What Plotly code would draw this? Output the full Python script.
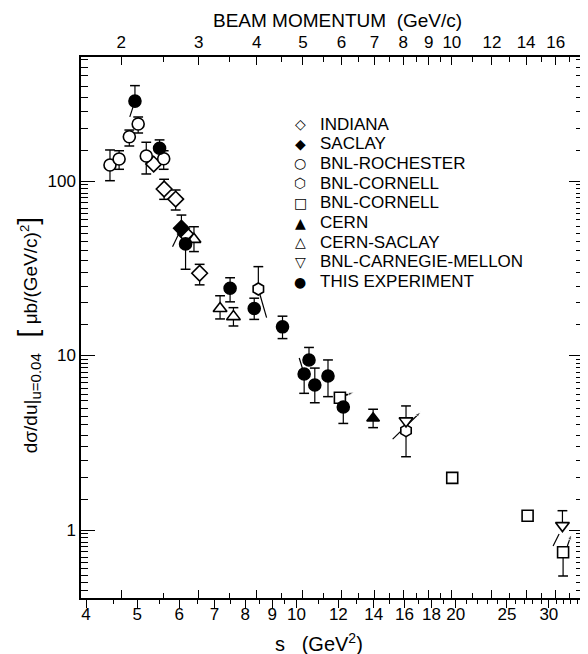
import math
import plotly.graph_objects as go

# ---------------- data ----------------
indiana_s = [5.37, 5.62, 5.91, 6.17, 6.56]
indiana_y = [125, 90.0, 78.8, 49.7, 29.6]
indiana_up = [0, 12.3, 10.0, 0, 3.7]
indiana_dn = [0, 11.5, 10.6, 0, 4.2]

saclay_s = [6.06]
saclay_y = [53.6]
saclay_up = [10.2]
saclay_dn = [0]

rochester_s = [4.44, 4.62, 4.83, 5.02, 5.20, 5.61]
rochester_y = [123.5, 133.7, 179.4, 212.1, 139.1, 134.2]
rochester_up = [27.1, 15.4, 16.5, 20.6, 27.6, 14.9]
rochester_dn = [23.1, 17.0, 20.7, 23.7, 29.4, 17.5]

cornell_hex_s = [8.47, 16.11]
cornell_hex_y = [24.05, 3.71]
cornell_hex_up = [8.25, 0]
cornell_hex_dn = [0, 1.08]

cornell_sq_s = [12.08, 19.7, 27.35, 31.92]
cornell_sq_y = [5.73, 1.99, 1.208, 0.745]
cornell_sq_up = [0, 0, 0, 0]
cornell_sq_dn = [0, 0, 0, 0.2]

cern_s = [13.96]
cern_y = [4.37]
cern_up = [0.55]
cern_dn = [0.51]

cern_saclay_s = [6.40, 7.17, 7.60]
cern_saclay_y = [46.3, 18.6, 16.7]
cern_saclay_up = [8.4, 3.4, 2.1]
cern_saclay_dn = [6.9, 2.4, 1.94]

cmu_s = [16.11, 31.83]
cmu_y = [4.22, 1.06]
cmu_up = [0.92, 0.23]
cmu_dn = [0, 0]

this_s = [4.95, 5.51, 6.17, 7.49, 8.32, 9.41, 10.56, 10.34, 10.83, 11.47, 12.26]
this_y = [287, 154, 43.6, 24.3, 18.6, 14.6, 9.42, 7.83, 6.77, 7.63, 5.07]
this_up = [65, 18, 6, 3.6, 2.7, 2.2, 1.7, 0, 1.7, 1.8, 0.9]
this_dn = [0, 0, 12.4, 4.0, 2.5, 2.1, 0, 1.76, 1.41, 1.82, 0.99]

# slanted segments (start s, start y, end s, end y)
seg_plain = [(4.95, 287, 4.84, 233), (6.06, 53.6, 5.83, 42.0),
             (8.47, 24.05, 8.78, 16.47), (10.12, 9.67, 10.34, 7.83),
             (30.56, 0.81, 31.37, 0.948)]
seg_arrow = [(12.08, 5.73, 12.84, 6.18), (15.2, 3.32, 17.19, 4.76),
             (32.52, 0.81, 33.1, 0.945)]

# legend entries
legend_symbols = ["◇", "◆", "○", "⬡", "□", "▲", "△", "▽", "●"]
legend_names = ["INDIANA", "SACLAY", "BNL-ROCHESTER", "BNL-CORNELL", "BNL-CORNELL",
                "CERN", "CERN-SACLAY", "BNL-CARNEGIE-MELLON", "THIS EXPERIMENT"]

# axis ticks
s_ticks = [4, 5, 6, 7, 8, 9, 10, 12, 14, 16, 18, 20, 25, 30]
s_minor = [4.5, 5.5, 6.5, 7.5, 8.5, 9.5, 11, 13, 15, 17, 19, 21, 22, 23, 24,
           26, 27, 28, 29, 31, 32, 33, 34]
p_ticks = [2, 3, 4, 5, 6, 7, 8, 9, 10, 12, 14, 16]
p_minor = [2.5, 3.5, 4.5, 5.5, 6.5, 7.5, 8.5, 9.5, 11, 13, 15, 17]
y_ticks = [1, 10, 100]
y_minor_mant = [1.5, 2, 2.5, 3, 3.5, 4, 4.5, 5, 5.5, 6, 6.5, 7, 7.5, 8, 8.5, 9, 9.5]

M_PI, M_P = 0.13957, 0.93827


def s_of_p(p):
    return M_PI ** 2 + M_P ** 2 + 2 * M_P * math.sqrt(p * p + M_PI ** 2)


FONT = "Liberation Sans, Arial, sans-serif"
fig = go.Figure()

series = [
    ("INDIANA", indiana_s, indiana_y, indiana_up, indiana_dn, "diamond", False, 12),
    ("SACLAY", saclay_s, saclay_y, saclay_up, saclay_dn, "diamond", True, 12),
    ("BNL-ROCHESTER", rochester_s, rochester_y, rochester_up, rochester_dn, "circle", False, 12),
    ("BNL-CORNELL", cornell_hex_s, cornell_hex_y, cornell_hex_up, cornell_hex_dn, "hexagon", False, 12),
    ("BNL-CORNELL ", cornell_sq_s, cornell_sq_y, cornell_sq_up, cornell_sq_dn, "square", False, 11),
    ("CERN", cern_s, cern_y, cern_up, cern_dn, "triangle-up", True, 11),
    ("CERN-SACLAY", cern_saclay_s, cern_saclay_y, cern_saclay_up, cern_saclay_dn, "triangle-up", False, 12),
    ("BNL-CARNEGIE-MELLON", cmu_s, cmu_y, cmu_up, cmu_dn, "triangle-down", False, 12),
    ("THIS EXPERIMENT", this_s, this_y, this_up, this_dn, "circle", True, 12),
]

# error bars (bars + caps) built from the data
bx, by, cx, cy = [], [], [], []
for _, s, y, up, dn, *_rest in series:
    for si, yi, u, d in zip(s, y, up, dn):
        if u > 0 or d > 0:
            bx += [si, si, None]
            by += [yi - d, yi + u, None]
        if u > 0:
            cx.append(si)
            cy.append(yi + u)
        if d > 0:
            cx.append(si)
            cy.append(yi - d)
fig.add_trace(go.Scatter(x=bx, y=by, mode="lines", line=dict(color="black", width=1.2),
                         showlegend=False, hoverinfo="skip"))
fig.add_trace(go.Scatter(x=cx, y=cy, mode="markers",
                         marker=dict(symbol="line-ew", size=7,
                                     line=dict(color="black", width=1.5)),
                         showlegend=False, hoverinfo="skip"))

# slanted lines
px, py = [], []
for a, b, c, d in seg_plain:
    px += [a, c, None]
    py += [b, d, None]
fig.add_trace(go.Scatter(x=px, y=py, mode="lines", line=dict(color="black", width=1.2),
                         showlegend=False, hoverinfo="skip"))
for a, b, c, d in seg_arrow:
    fig.add_trace(go.Scatter(x=[a, c], y=[b, d], mode="lines+markers",
                             line=dict(color="black", width=1.2),
                             marker=dict(symbol="arrow", size=[0, 6], color="black",
                                         angleref="previous"),
                             showlegend=False, hoverinfo="skip"))

# markers
for name, s, y, up, dn, symbol, filled, size in series:
    fig.add_trace(go.Scatter(
        x=s, y=y, mode="markers", name=name, showlegend=False,
        marker=dict(symbol=symbol, size=size, color="black" if filled else "white",
                    line=dict(color="black", width=1.6)),
        hoverinfo="skip"))

# invisible trace to carry the top axis
fig.add_trace(go.Scatter(x=this_s, y=this_y, xaxis="x2", mode="markers",
                         marker=dict(opacity=0), showlegend=False, hoverinfo="skip"))

xr = [0.5926, 1.5417]
yr = [-0.3897, 2.7106]
y_minor = [m * 10 ** e for e in (-1, 0, 1, 2) for m in y_minor_mant]

# figure geometry (page has an 8px body margin)
W, H = 588, 654
ML, MT, PW, PH = 73, 49, 504, 541
MR, MB = W - ML - PW, H - MT - PH


def pxx(fx):
    return (fx - ML) / PW


def pxy(fy):
    return (MT + PH - fy) / PH


annotations = [
    dict(text="BEAM MOMENTUM  (GeV/c)", x=pxx(331), y=pxy(12), font=dict(size=19)),
    dict(text="s   (GeV<sup>2</sup>)", x=pxx(312), y=pxy(634), font=dict(size=20)),
    dict(text="dσ/du|<sub><span style='font-size:15px'>u=0.04</span></sub>   "
              "<span style='font-size:28px'>[</span>"
              " μb/(GeV/c)<sup>2</sup><span style='font-size:28px'>]</span>",
         x=pxx(20), y=pxy(327), textangle=-90, font=dict(size=19)),
]
for i, (sym, name) in enumerate(zip(legend_symbols, legend_names)):
    yc = 116 + i * 19.7
    annotations.append(dict(text=sym, x=pxx(293), y=pxy(yc),
                            font=dict(size=14, family="DejaVu Sans")))
    annotations.append(dict(text=name, x=pxx(311), y=pxy(yc), xanchor="left",
                            font=dict(size=17)))
for a in annotations:
    a.setdefault("xanchor", "center")
    a.update(xref="paper", yref="paper", showarrow=False, yanchor="middle")

fig.update_layout(
    width=W, height=H,
    margin=dict(l=ML, r=MR, t=MT, b=MB),
    paper_bgcolor="white", plot_bgcolor="white",
    font=dict(family=FONT, color="black", size=16),
    showlegend=False,
    xaxis=dict(type="log", range=xr, tickmode="array", tickvals=s_ticks,
               ticktext=[str(v) for v in s_ticks], ticks="outside", ticklen=8,
               tickwidth=1.2, tickcolor="black", showgrid=False, zeroline=False,
               showline=True, linecolor="black", linewidth=1.5, mirror=False,
               tickfont=dict(size=17), ticklabelstandoff=-8,
               minor=dict(tickmode="array", tickvals=s_minor, ticks="outside",
                          ticklen=4, tickcolor="black", showgrid=False)),
    xaxis2=dict(type="log", range=xr, overlaying="x", side="top", anchor="y",
                tickmode="array", tickvals=[s_of_p(p) for p in p_ticks],
                ticktext=[str(p) for p in p_ticks], ticks="inside", ticklen=8,
                tickwidth=1.2, tickcolor="black", showgrid=False, zeroline=False,
                showline=True, linecolor="black", linewidth=1.5, mirror="ticks",
                tickfont=dict(size=17),
                minor=dict(tickmode="array", tickvals=[s_of_p(p) for p in p_minor],
                           ticks="inside", ticklen=5, tickcolor="black", showgrid=False)),
    yaxis=dict(type="log", range=yr, tickmode="array", tickvals=y_ticks,
               ticktext=[str(v) for v in y_ticks], ticks="inside", ticklen=14,
               tickwidth=1.2, tickcolor="black", showgrid=False, zeroline=False,
               showline=True, linecolor="black", linewidth=1.5, mirror="ticks",
               tickfont=dict(size=17),
               minor=dict(tickmode="array", tickvals=y_minor, ticks="inside",
                          ticklen=7, tickcolor="black", showgrid=False)),
    annotations=annotations,
)

fig.write_html("out.html")
